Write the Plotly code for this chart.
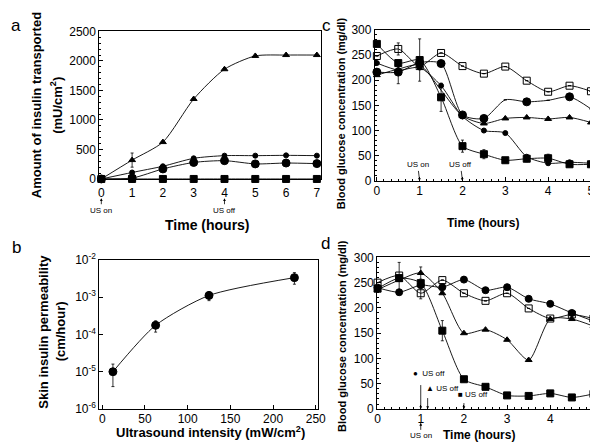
import plotly.graph_objects as go

# ---------------- data ----------------
# Panel a: insulin transported (mU/cm2) vs time (hours)
a_time = [0, 1, 2, 3, 4, 5, 6, 7]
a_triangle = [0, 320, 625, 1355, 1860, 2085, 2100, 2100]
a_triangle_err = [0, 120, 0, 0, 0, 0, 0, 0]
a_small_circle = [0, 110, 215, 350, 395, 395, 400, 395]
a_circle = [0, 15, 170, 280, 310, 255, 270, 260]
a_square = [0, 0, 0, 0, 0, 0, 0, 0]
a_xticks = [0, 1, 2, 3, 4, 5, 6, 7]
a_yticks = [0, 500, 1000, 1500, 2000, 2500]

# Panel b: permeability vs ultrasound intensity
b_intensity = [12.5, 62.5, 125, 225]
b_perm = [1.0e-5, 1.75e-4, 1.1e-3, 3.3e-3]
b_err_plus = [0.6e-5, 0.55e-4, 0.3e-3, 1.2e-3]
b_err_minus = [0.6e-5, 0.6e-4, 0.3e-3, 1.1e-3]
b_xticks = [0, 50, 100, 150, 200, 250]
b_yticks = [1e-6, 1e-5, 1e-4, 1e-3, 1e-2]
b_yticktext = ["10<sup>-6</sup>", "10<sup>-5</sup>", "10<sup>-4</sup>", "10<sup>-3</sup>", "10<sup>-2</sup>"]

# Panel c: blood glucose (mg/dl) vs time (hours)
c_time = [0, 0.5, 1, 1.5, 2, 2.5, 3, 3.5, 4, 4.5, 5]
c_open_sq = [248, 262, 228, 254, 228, 213, 227, 199, 177, 189, 178]
c_open_sq_err = [0, 12, 0, 0, 0, 0, 0, 0, 0, 0, 0]
c_filled_sq = [272, 234, 240, 166, 69, 53, 41, 44, 45, 33, 33]
c_filled_sq_err = [0, 0, 42, 28, 12, 9, 5, 6, 8, 0, 0]
c_big_circle = [216, 216, 235, 233, 131, 124, 161, 157, 160, 167, 143]
c_big_circle_err = [0, 23, 0, 0, 0, 0, 0, 0, 0, 0, 0]
c_big_circle_shown = [1, 1, 1, 1, 1, 1, 0, 1, 0, 1, 0]
c_triangle = [210, 222, 230, 180, 129, 114, 124, 126, 123, 126, 116]
c_triangle_shown = [1, 0, 1, 0, 1, 1, 1, 1, 1, 1, 1]
c_small_circle = [234, 220, 225, 189, 128, 100, 95, 48, 35, 37, 35]

# Panel d: blood glucose (mg/dl) vs time (hours)
d_time = [0, 0.5, 1, 1.5, 2, 2.5, 3, 3.5, 4, 4.5, 5]
d_circle = [240, 231, 245, 241, 256, 235, 241, 218, 208, 190, 174]
d_open_sq = [250, 264, 229, 255, 229, 214, 229, 199, 179, 187, 179]
d_open_sq_err = [0, 0, 11, 0, 0, 0, 0, 0, 0, 0, 0]
d_triangle = [236, 255, 269, 229, 150, 157, 137, 97, 178, 178, 164]
d_triangle_err = [0, 0, 12, 0, 0, 0, 0, 0, 0, 0, 0]
d_filled_sq = [238, 259, 249, 155, 59, 44, 27, 26, 31, 23, 30]
d_filled_sq_err = [0, 31, 0, 20, 0, 0, 0, 0, 0, 0, 0]
cd_xticks = [0, 1, 2, 3, 4, 5]
cd_yticks = [0, 50, 100, 150, 200, 250, 300]

# ---------------- layout helpers ----------------
W, H = 598, 445
FONT = "Liberation Sans, Arial, sans-serif"


def fx(p):
    return p / W


def fy(p):
    return 1 - p / H


def series(x, y, xa, ya, symbol, size, err=None, err_minus=None, shown=None):
    sizes = size if shown is None else [size if s else 0 for s in shown]
    tr = go.Scatter(
        x=x, y=y, xaxis=xa, yaxis=ya,
        mode="lines+markers",
        line=dict(color="black", width=0.9, shape="spline", smoothing=0.7),
        marker=dict(symbol=symbol, size=sizes, color="black", opacity=1,
                    line=dict(color="black", width=1)),
        cliponaxis=False, showlegend=False, hoverinfo="skip",
    )
    if err is not None:
        ed = dict(type="data", array=err, visible=True, color="black", thickness=0.8, width=1.5)
        if err_minus is not None:
            ed["symmetric"] = False
            ed["arrayminus"] = err_minus
        tr.update(error_y=ed)
    return tr


fig = go.Figure()

# panel a
fig.add_trace(series(a_time, a_square, "x", "y", "square", 7))
fig.add_trace(series(a_time, a_circle, "x", "y", "circle", 8))
fig.add_trace(series(a_time, a_small_circle, "x", "y", "circle", 5))
fig.add_trace(series(a_time, a_triangle, "x", "y", "triangle-up", 6, err=a_triangle_err))

# panel c
fig.add_trace(series(c_time, c_open_sq, "x2", "y2", "square-open", 7, err=c_open_sq_err))
fig.add_trace(series(c_time, c_triangle, "x2", "y2", "triangle-up", 6, shown=c_triangle_shown))
fig.add_trace(series(c_time, c_small_circle, "x2", "y2", "circle", 5))
fig.add_trace(series(c_time, c_big_circle, "x2", "y2", "circle", 8, err=c_big_circle_err,
                     shown=c_big_circle_shown))
fig.add_trace(series(c_time, c_filled_sq, "x2", "y2", "square", 7, err=c_filled_sq_err))

# panel b
fig.add_trace(series(b_intensity, b_perm, "x3", "y3", "circle", 8, err=b_err_plus, err_minus=b_err_minus))

# panel d
fig.add_trace(series(d_time, d_circle, "x4", "y4", "circle", 7))
fig.add_trace(series(d_time, d_open_sq, "x4", "y4", "square-open", 7, err=d_open_sq_err))
fig.add_trace(series(d_time, d_triangle, "x4", "y4", "triangle-up", 6, err=d_triangle_err))
fig.add_trace(series(d_time, d_filled_sq, "x4", "y4", "square", 7, err=d_filled_sq_err))

common = dict(showline=True, linecolor="black", linewidth=1, mirror=True, ticks="inside",
              ticklen=4, tickcolor="black", tickwidth=1, showgrid=False, zeroline=False,
              tickfont=dict(family=FONT, size=12, color="black"))

fig.update_layout(
    width=W, height=H, autosize=False,
    margin=dict(l=0, r=0, t=0, b=0),
    paper_bgcolor="white", plot_bgcolor="white",
    xaxis=dict(domain=[fx(90), fx(316)], range=[-0.064, 7.14], tickvals=a_xticks, anchor="y",
               ticklabelstandoff=3, **common),
    yaxis=dict(domain=[fy(168), fy(15)], range=[0, 2500], tickvals=a_yticks, anchor="x",
               minor=dict(ticks="inside", ticklen=2, dtick=100, tickcolor="black"), **common),
    xaxis2=dict(domain=[fx(370.7), fx(593)], range=[-0.046, 5.05], tickvals=cd_xticks, anchor="y2",
                ticklabelstandoff=-1,
                minor=dict(ticks="inside", ticklen=2, dtick=1 / 6, tickcolor="black"), **common),
    yaxis2=dict(domain=[fy(170), fy(13.3)], range=[0, 300], tickvals=cd_yticks, anchor="x2",
                minor=dict(ticks="inside", ticklen=2, dtick=10, tickcolor="black"), **common),
    xaxis3=dict(domain=[fx(90), fx(313)], range=[-3.4, 252.9], tickvals=b_xticks, anchor="y3",
                ticklabelstandoff=-1, **common),
    yaxis3=dict(domain=[fy(406.7), fy(251.7)], type="log", range=[-6, -2], tickvals=b_yticks,
                ticktext=b_yticktext, anchor="x3", **common),
    xaxis4=dict(domain=[fx(373), fx(596)], range=[-0.01, 5.06], tickvals=cd_xticks, anchor="y4",
                ticklabelstandoff=-1,
                minor=dict(ticks="inside", ticklen=2, dtick=1 / 6, tickcolor="black"), **common),
    yaxis4=dict(domain=[fy(406.7), fy(249.3)], range=[0, 300], tickvals=cd_yticks, anchor="x4",
                minor=dict(ticks="inside", ticklen=2, dtick=10, tickcolor="black"), **common),
)

ann = []


def text(x, y, s, size=12, bold=False, angle=0, xanchor="center"):
    ann.append(dict(x=fx(x), y=fy(y), xref="paper", yref="paper", text=f"<b>{s}</b>" if bold else s,
                    showarrow=False, textangle=angle, xanchor=xanchor, yanchor="middle",
                    font=dict(family=FONT, size=size, color="black")))


# panel letters
text(5, 9, "a", 17)
text(6, 239, "b", 17)
text(321, 9, "c", 17)
text(320, 235, "d", 17)

# axis titles
text(26, 92, "Amount of insulin transported", 13, True, -90)
text(46, 92, "(mU/cm<sup>2</sup>)", 13, True, -90)
text(200, 216, "Time (hours)", 14, True)
text(33, 326, "Skin insulin permeability", 13, True, -90)
text(50, 326, "(cm/hour)", 13, True, -90)
text(203, 430, "Ultrasound intensity (mW/cm<sup>2</sup>)", 13, True)
text(337, 100, "Blood glucose concentration (mg/dl)", 11, True, -90)
text(481, 214, "Time (hours)", 12, True)
text(337, 331, "Blood glucose concentration (mg/dl)", 11, True, -90)
text(477, 434, "Time (hours)", 12, True)

arrow_style = dict(showarrow=True, arrowhead=2, arrowsize=0.7, arrowwidth=0.8, arrowcolor="black",
                   font=dict(family=FONT, size=8, color="black"), standoff=0)

# panel a US on / off (below axis, arrows pointing up)
for xv, label in [(0, "US on"), (4, "US off")]:
    ann.append(dict(x=xv, y=fy(188), xref="x", yref="paper", text=label, ax=0, ay=12, **arrow_style))

# panel c US on / off (arrows pointing down to axis)
for xv, label in [(1, "US on"), (2, "US off")]:
    ann.append(dict(x=xv, y=0, xref="x2", yref="y2", text=label, ax=-2, ay=-16, **arrow_style))

# panel d
ann.append(dict(x=1, y=fy(421), xref="x4", yref="paper", text="US on", ax=0, ay=13, **arrow_style))
for xv, tail in [(1.0, -30), (1.16, -17), (2, -12)]:
    ann.append(dict(x=xv, y=0, xref="x4", yref="y4", text=" ", ax=0, ay=tail, **arrow_style))
text(426, 370, "●  US off", 8)
text(440, 385, "▲ US off", 8)
text(471, 392, "■ US off", 8)

fig.update_layout(annotations=ann)
fig.write_html("out.html")
